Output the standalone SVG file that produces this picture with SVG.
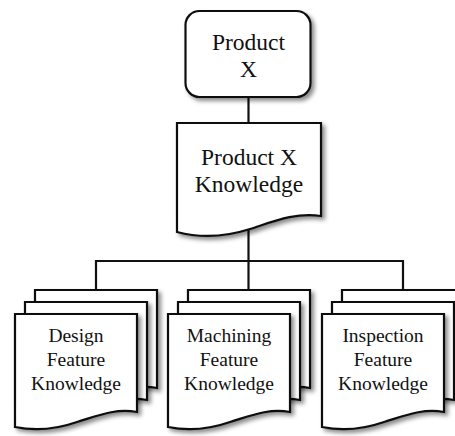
<svg xmlns="http://www.w3.org/2000/svg" xmlns:xlink="http://www.w3.org/1999/xlink" width="455" height="436" viewBox="0 0 455 436">
  <style>
    .shape { fill: #ffffff; stroke: #111111; stroke-width: 2.2; stroke-linejoin: miter; filter: url(#shadow); }
    .conn { fill: none; stroke: #111111; stroke-width: 2.2; }
    .big { font-family: "Liberation Serif", "DejaVu Serif", serif; font-size: 23.5px; fill: #111111; text-anchor: middle; }
    .small { font-family: "Liberation Serif", "DejaVu Serif", serif; font-size: 19.5px; fill: #111111; text-anchor: middle; }
  </style>
  <defs>
    <filter id="shadow" x="-20%" y="-20%" width="140%" height="140%">
      <feDropShadow dx="3" dy="3" stdDeviation="2" flood-color="#000000" flood-opacity="0.45"/>
    </filter>
    <path id="page" d="M0,0 H122 V98 C100,94 82,102 62,108 C42,115 20,117 0,113 Z"/>
  </defs>
  <rect width="455" height="436" fill="#ffffff"/>

  <g id="connectors">
    <line class="conn" x1="248.5" y1="97" x2="248.5" y2="123"/>
    <polyline class="conn" points="248.5,230 248.5,261 96,261 96,290"/>
    <line class="conn" x1="248.5" y1="261" x2="248.5" y2="290"/>
    <polyline class="conn" points="248.5,261 403,261 403,290"/>
  </g>

  <g id="product-x">
    <rect class="shape" x="185.5" y="11" width="125" height="86" rx="14" ry="14"/>
    <text class="big" x="248.5" y="50" font-family="Liberation Serif, DejaVu Serif, serif">Product</text>
    <text class="big" x="248.5" y="77" font-family="Liberation Serif, DejaVu Serif, serif">X</text>
  </g>

  <g id="product-x-knowledge">
    <path class="shape" d="M177,123 H321 V216 C295,212 272,222 250,229 C225,237 200,238 177,232 Z"/>
    <text class="big" x="249" y="165" font-family="Liberation Serif, DejaVu Serif, serif">Product X</text>
    <text class="big" x="249" y="192" font-family="Liberation Serif, DejaVu Serif, serif">Knowledge</text>
  </g>

  <g id="design-feature-knowledge">
    <use xlink:href="#page" class="shape" x="35" y="290"/>
    <use xlink:href="#page" class="shape" x="25" y="302"/>
    <use xlink:href="#page" class="shape" x="15" y="314"/>
    <text class="small" x="76" y="342" font-family="Liberation Serif, DejaVu Serif, serif">Design</text>
    <text class="small" x="76" y="366" font-family="Liberation Serif, DejaVu Serif, serif">Feature</text>
    <text class="small" x="76" y="390" font-family="Liberation Serif, DejaVu Serif, serif">Knowledge</text>
  </g>

  <g id="machining-feature-knowledge">
    <use xlink:href="#page" class="shape" x="188" y="290"/>
    <use xlink:href="#page" class="shape" x="178" y="302"/>
    <use xlink:href="#page" class="shape" x="168" y="314"/>
    <text class="small" x="229" y="342" font-family="Liberation Serif, DejaVu Serif, serif">Machining</text>
    <text class="small" x="229" y="366" font-family="Liberation Serif, DejaVu Serif, serif">Feature</text>
    <text class="small" x="229" y="390" font-family="Liberation Serif, DejaVu Serif, serif">Knowledge</text>
  </g>

  <g id="inspection-feature-knowledge">
    <use xlink:href="#page" class="shape" x="342" y="290"/>
    <use xlink:href="#page" class="shape" x="332" y="302"/>
    <use xlink:href="#page" class="shape" x="322" y="314"/>
    <text class="small" x="383" y="342" font-family="Liberation Serif, DejaVu Serif, serif">Inspection</text>
    <text class="small" x="383" y="366" font-family="Liberation Serif, DejaVu Serif, serif">Feature</text>
    <text class="small" x="383" y="390" font-family="Liberation Serif, DejaVu Serif, serif">Knowledge</text>
  </g>
</svg>
